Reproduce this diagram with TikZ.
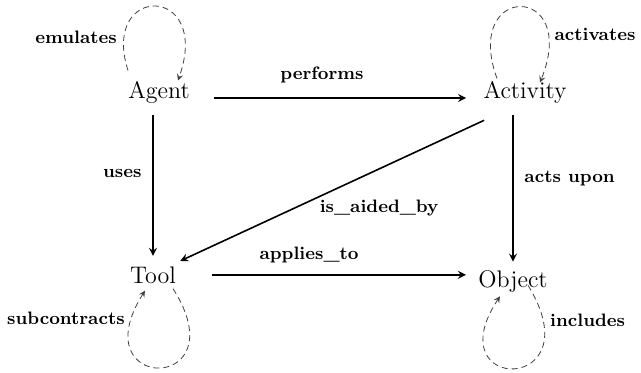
\documentclass[tikz,border=0pt]{standalone}
\usetikzlibrary{arrows}

\tikzset{
  concept/.style={font=\fontsize{12}{14}\selectfont, inner sep=0pt},
  link/.style={->, thick},
  selfloop/.style={->, thin, black!75, densely dashed},
  lbl/.style={font=\bfseries\fontsize{9}{11}\selectfont, text=black}
}

\begin{document}
\begin{tikzpicture}[>=stealth, x=0.5pt, y=-0.5pt]

    % 1. Frame (one unit is one pixel of the sketch)
    \useasboundingbox (0,0) rectangle (641,372);

    % 2. The four concepts, placed on their baselines
    \node[concept, anchor=base] (agent)    at (159,98)  {Agent};
    \node[concept, anchor=base] (activity) at (525,98)  {Activity};
    \node[concept, anchor=base] (tool)     at (153,283) {Tool};
    \node[concept, anchor=base] (object)   at (513,287) {Object};

    % 3. Relations between concepts
    \draw[link, shorten <=12pt, shorten >=8.5pt] (agent.base east) -- node[lbl, pos=0.45, above=4pt] {performs} (activity.base west);
    \draw[link, shorten <=6pt, shorten >=5pt] (tool.north |- agent.south) -- node[lbl, pos=0.43, left=2pt] {uses} (tool.north);
    \draw[link, shorten <=6pt, shorten >=4pt] (object.north |- activity.south) -- node[lbl, pos=0.45, right=2pt] {acts upon} (object.north);
    \draw[link] ([shift={(1,17)}]activity.south west) -- node[lbl, pos=0.55, anchor=north west, inner sep=1pt] {is\_aided\_by} ([shift={(4,-5)}]tool.north east);
    \draw[link, shorten <=18pt, shorten >=6pt] (tool.east) -- node[lbl, pos=0.44, above=2pt] {applies\_to} (object.west |- tool.east);

    % 4. Self relations (loops)
    \draw[selfloop] ([shift={(-31,-10)}]agent.north) .. controls +(-28,-87) and +(34,-97) .. node[lbl, pos=0.15, left] {emulates} ([shift={(19,0)}]agent.north);
    \draw[selfloop] ([shift={(-28,-2)}]activity.north) .. controls +(-35,-96) and +(40,-100) .. node[lbl, pos=0.8, right] {activates} ([shift={(15,2)}]activity.north);
    \draw[selfloop] ([shift={(20,5)}]tool.south) .. controls +(67,105) and +(-65,103) .. node[lbl, pos=0.9, left=0pt] {subcontracts} ([shift={(-8,7)}]tool.south);
    \draw[selfloop] ([shift={(15,-7)}]object.south) .. controls +(67,109) and +(-65,98) .. node[lbl, pos=0.12, right] {includes} ([shift={(-13,4)}]object.south);

\end{tikzpicture}
\end{document}
